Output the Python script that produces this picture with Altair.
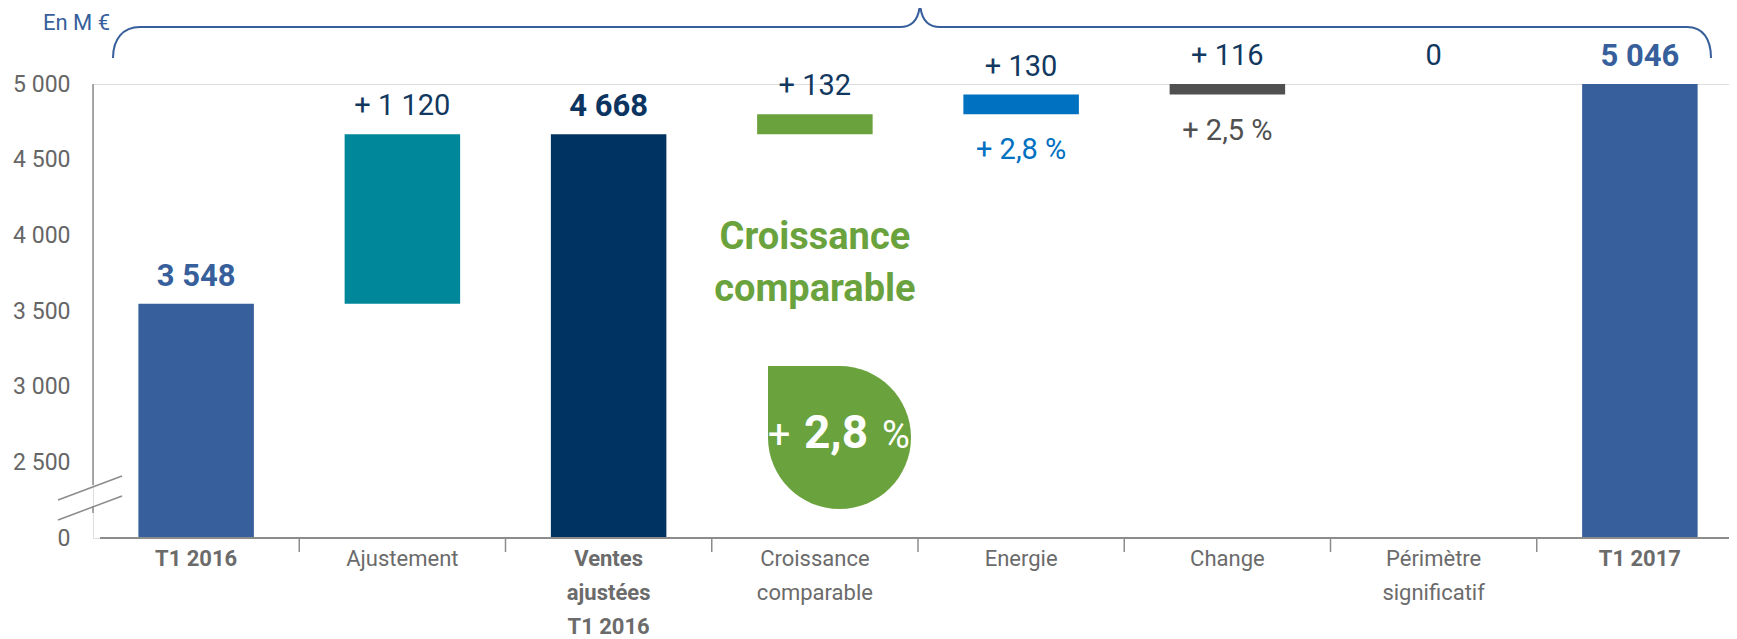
import altair as alt
import pandas as pd

# ---------------- data ----------------
categories = ["T1 2016", "Ajustement", "Ventes ajustées T1 2016", "Croissance comparable",
              "Energie", "Change", "Périmètre significatif", "T1 2017"]
axis_labels = ["T1 2016", "Ajustement", "Ventes\najustées\nT1 2016", "Croissance\ncomparable",
               "Energie", "Change", "Périmètre\nsignificatif", "T1 2017"]
label_bold = [True, False, True, False, False, False, False, True]
bar_start = [0, 3548, 0, 4668, 4800, 4930, 5046, 0]
bar_end = [3548, 4668, 4668, 4800, 4930, 5046, 5046, 5046]
value_labels = ["3 548", "+ 1 120", "4 668", "+ 132", "+ 130", "+ 116", "0", "5 046"]
value_bold = [True, False, True, False, False, False, False, True]
bar_colors = ["#375F9B", "#00889A", "#003361", "#6AA33D", "#0070C0", "#505050", "#505050", "#375F9B"]
value_colors = ["#375F9B", "#12385F", "#0B3461", "#12385F", "#12385F", "#12385F", "#12385F", "#375F9B"]
pct_categories = ["Energie", "Change"]
pct_labels = ["+ 2,8 %", "+ 2,5 %"]
pct_colors = ["#0070C0", "#505050"]
y_tick_values = [0, 2500, 3000, 3500, 4000, 4500, 5000]
y_tick_labels = ["0", "2 500", "3 000", "3 500", "4 000", "4 500", "5 000"]
axis_max = 5000
axis_break = 2500
unit_title = "En M €"
highlight_title = "Croissance\ncomparable"
highlight_value = ["+", "2,8", "%"]

# ---------------- helpers ----------------
def brk(v):
    # broken axis: 0..2500 squeezed to one 500-step, above 2500 linear
    return v * 0.2 if v <= axis_break else v - (axis_break - 500)

brk_expr = "(v <= {b} ? v * 0.2 : v - {d})".format(b=axis_break, d=axis_break - 500)

def brk_e(field):
    return brk_expr.replace("v", "datum." + field)

n = len(categories)
df = pd.DataFrame({
    "idx": list(range(n)),
    "cat": categories,
    "start": bar_start,
    "end": bar_end,
    "vlabel": value_labels,
    "vbold": value_bold,
    "bcolor": bar_colors,
    "vcolor": value_colors,
    "xlabel": axis_labels,
    "xbold": label_bold,
})

pct_df = pd.DataFrame({
    "idx": [categories.index(c) for c in pct_categories],
    "start": [min(bar_start[categories.index(c)], bar_end[categories.index(c)]) for c in pct_categories],
    "label": pct_labels,
    "color": pct_colors,
})

bounds_df = pd.DataFrame({"b": list(range(1, n))})

PX_PER_CAT = 206.25
W = 1636
H = 454
xdom_max = W / PX_PER_CAT

xscale = alt.Scale(domain=[0, xdom_max], nice=False, zero=False)
yscale = alt.Scale(domain=[0, brk(axis_max)], nice=False, zero=False)

tick_pos = [brk(v) for v in y_tick_values]
expr = "''"
for p, l in zip(reversed(tick_pos), reversed(y_tick_labels)):
    expr = "datum.value == {p} ? '{l}' : ({e})".format(p=p, l=l, e=expr)

yaxis = alt.Axis(values=tick_pos, labelExpr=expr, domain=False, ticks=False, grid=False,
                 labelFontSize=23, labelColor="#666666", labelPadding=23, title=None,
                 labelFont="Roboto")

FONT = "Roboto"

base = alt.Chart(df).transform_calculate(
    x0="datum.idx + 0.22",
    x1="datum.idx + 0.78",
    xc="datum.idx + 0.5",
    y0=brk_e("start"),
    y1=brk_e("end"),
    topv="min(max(datum.start, datum.end), %d)" % axis_max,
).transform_calculate(
    ytop=brk_e("topv"),
)

bars = base.mark_bar(clip=True).encode(
    x=alt.X("x0:Q", scale=xscale, axis=None),
    x2="x1:Q",
    y=alt.Y("y0:Q", scale=yscale, axis=yaxis),
    y2="y1:Q",
    color=alt.Color("bcolor:N", scale=None),
)

vlab_bold = base.transform_filter("datum.vbold").mark_text(
    font=FONT, fontSize=31, fontWeight="bold", baseline="middle", dy=-27
).encode(
    x=alt.X("xc:Q", scale=xscale), y=alt.Y("ytop:Q", scale=yscale),
    text="vlabel:N", color=alt.Color("vcolor:N", scale=None),
)
vlab_reg = base.transform_filter("!datum.vbold").mark_text(
    font=FONT, fontSize=29, baseline="middle", dy=-28
).encode(
    x=alt.X("xc:Q", scale=xscale), y=alt.Y("ytop:Q", scale=yscale),
    text="vlabel:N", color=alt.Color("vcolor:N", scale=None),
)

xlab_bold = base.transform_filter("datum.xbold").mark_text(
    font=FONT, fontSize=22, fontWeight="bold", baseline="top", lineBreak="\n",
    lineHeight=34, color="#6B6B6B"
).encode(x=alt.X("xc:Q", scale=xscale), y=alt.value(465), text="xlabel:N")
xlab_reg = base.transform_filter("!datum.xbold").mark_text(
    font=FONT, fontSize=22, baseline="top", lineBreak="\n",
    lineHeight=34, color="#6B6B6B"
).encode(x=alt.X("xc:Q", scale=xscale), y=alt.value(465), text="xlabel:N")

pct = alt.Chart(pct_df).transform_calculate(
    xc="datum.idx + 0.5", ys=brk_e("start")
).mark_text(font=FONT, fontSize=29, baseline="middle", dy=36).encode(
    x=alt.X("xc:Q", scale=xscale), y=alt.Y("ys:Q", scale=yscale),
    text="label:N", color=alt.Color("color:N", scale=None),
)

ticks = alt.Chart(bounds_df).mark_rule(color="#8C8C8C", strokeWidth=1.5).encode(
    x=alt.X("b:Q", scale=xscale), y=alt.value(H), y2=alt.value(H + 14)
)

one = pd.DataFrame({"a": [0]})
AX = "#8C8C8C"
baseline = alt.Chart(one).mark_rule(color=AX, strokeWidth=2).encode(
    x=alt.value(7), x2=alt.value(W), y=alt.value(H))
yline1 = alt.Chart(one).mark_rule(color=AX, strokeWidth=1.5).encode(
    x=alt.value(0), y=alt.value(0), y2=alt.value(401))
yline2 = alt.Chart(one).mark_rule(color=AX, strokeWidth=1.5).encode(
    x=alt.value(0), y=alt.value(422), y2=alt.value(429))
slash1 = alt.Chart(one).mark_rule(color=AX, strokeWidth=1.5).encode(
    x=alt.value(-35), y=alt.value(416), x2=alt.value(29), y2=alt.value(392))
slash2 = alt.Chart(one).mark_rule(color=AX, strokeWidth=1.5).encode(
    x=alt.value(-35), y=alt.value(436), x2=alt.value(29), y2=alt.value(412))

BLUE = "#375F9B"
bracket_path = ("M 20 -26 C 20 -45 30 -57 47 -57 L 807 -57 C 822 -57 827 -69 827 -84 "
                "C 827 -69 832 -57 847 -57 L 1594 -57 C 1610 -57 1618 -45 1618 -26")
bracket = alt.Chart(one).mark_point(shape=bracket_path, filled=False, size=4, strokeWidth=2,
                                    color=BLUE, opacity=1).encode(
    x=alt.value(0), y=alt.value(0))
circle = alt.Chart(one).mark_circle(size=25000, color=BLUE, opacity=1).encode(
    x=alt.value(739), y=alt.value(-160))
unit = alt.Chart(one).mark_text(text=unit_title, font=FONT, fontSize=22, color=BLUE,
                                align="left", baseline="middle").encode(
    x=alt.value(-50), y=alt.value(-61))

GREEN = "#6AA33D"
green_title = alt.Chart(one).mark_text(text=highlight_title.split("\n"), font=FONT, fontSize=38,
                                       fontWeight="bold", color=GREEN, align="center",
                                       baseline="middle", lineHeight=52).encode(
    x=alt.value(3.5 * PX_PER_CAT), y=alt.value(154))
drop = alt.Chart(one).mark_rect(color=GREEN, cornerRadiusTopRight=71.5,
                                cornerRadiusBottomRight=71.5, cornerRadiusBottomLeft=71.5,
                                cornerRadiusTopLeft=0).encode(
    x=alt.value(675), x2=alt.value(818), y=alt.value(282), y2=alt.value(425))
drop_plus = alt.Chart(one).mark_text(text=highlight_value[0], font=FONT, fontSize=40, color="white",
                                     align="center", baseline="alphabetic").encode(
    x=alt.value(686), y=alt.value(364))
drop_num = alt.Chart(one).mark_text(text=highlight_value[1], font=FONT, fontSize=46, fontWeight="bold",
                                    color="white", align="center", baseline="alphabetic").encode(
    x=alt.value(743), y=alt.value(364))
drop_pct = alt.Chart(one).mark_text(text=highlight_value[2], font=FONT, fontSize=38, color="white",
                                    align="center", baseline="alphabetic").encode(
    x=alt.value(803), y=alt.value(364))

chart = alt.layer(
    bars, baseline, ticks, yline1, yline2, slash1, slash2,
    vlab_bold, vlab_reg, xlab_bold, xlab_reg, pct,
    bracket, circle, unit, green_title, drop, drop_plus, drop_num, drop_pct,
).properties(
    width=W, height=H,
    autosize=alt.AutoSizeParams(type="none"),
    padding={"left": 85, "top": 76, "right": 0, "bottom": 101},
).configure_view(stroke=None).configure(font=FONT)

chart.save("out.html", embed_options={"renderer": "svg", "actions": False})
